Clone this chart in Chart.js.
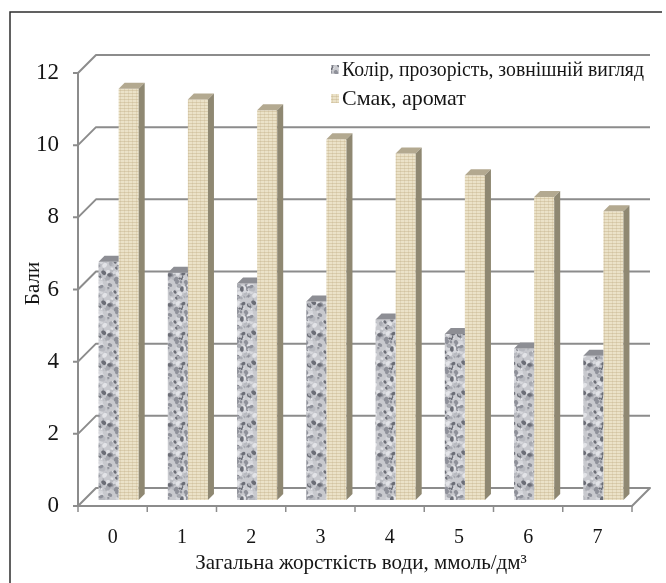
<!DOCTYPE html>
<html>
<head>
<meta charset="utf-8">
<script src="https://cdn.jsdelivr.net/npm/chart.js@4.4.1/dist/chart.umd.min.js"></script>
<style>
  html, body { margin: 0; padding: 0; background: #fff; }
  #wrap { width: 666px; height: 583px; position: relative; }
  canvas { display: block; }
</style>
</head>
<body>
<div id="wrap"><canvas id="c" width="666" height="583"></canvas></div>
<script>
// Water hardness categories (mmol/dm3) and sensory scores
const hardness = ['0', '1', '2', '3', '4', '5', '6', '7'];
const appearanceScores = [6.6, 6.3, 6.0, 5.5, 5.0, 4.6, 4.2, 4.0];
const tasteScores = [11.4, 11.1, 10.8, 10.0, 9.6, 9.0, 8.4, 8.0];
const seriesNames = ['Колір, прозорість, зовнішній вигляд', 'Смак, аромат'];
const xTitle = 'Загальна жорсткість води, ммоль/дм³';
const yTitle = 'Бали';
const yMax = 12;
const yStep = 2;

// pseudo-3D geometry (pixels)
const DEPTH = 18;      // floor depth, front edge to back wall
const FRONT = 6;       // bar plane sits this far behind the front edge
const BAR_D = 6;       // bar thickness in depth
const SERIF = "'Liberation Serif', 'DejaVu Serif', serif";
const INK = '#151515';

// deterministic hash for texture speckle placement
function hash(a, b) {
  let h = (a * 374761393 + b * 668265263) | 0;
  h = Math.imul(h ^ (h >>> 13), 1274126177);
  h = h ^ (h >>> 16);
  return (h >>> 0) / 4294967295;
}

function granitePattern() {
  const n = 30;
  const c = document.createElement('canvas');
  c.width = n; c.height = n;
  const g = c.getContext('2d');
  g.fillStyle = '#c8c9ce';
  g.fillRect(0, 0, n, n);
  const tones = ['#6b6d76', '#8f919a', '#a9abb2', '#e2e3e7', '#d6d7dc', '#b8bac0'];
  for (let i = 0; i < 90; i++) {
    const x = hash(i, 11) * n, y = hash(i, 23) * n;
    const r = 0.8 + hash(i, 37) * 2.0;
    g.fillStyle = tones[Math.floor(hash(i, 41) * tones.length)];
    for (const dx of [-n, 0, n]) for (const dy of [-n, 0, n]) {
      g.beginPath();
      g.ellipse(x + dx, y + dy, r, r * 0.75, hash(i, 53) * 3, 0, Math.PI * 2);
      g.fill();
    }
  }
  return g.createPattern(c, 'repeat');
}

function linenPattern() {
  const c = document.createElement('canvas');
  c.width = 12; c.height = 12;
  const g = c.getContext('2d');
  g.fillStyle = '#ebe2c8';
  g.fillRect(0, 0, 12, 12);
  g.fillStyle = 'rgba(185,166,122,0.35)';
  for (let y = 0; y < 12; y += 3) g.fillRect(0, y, 12, 1);
  g.fillStyle = 'rgba(185,166,122,0.22)';
  for (let x = 0; x < 12; x += 4) g.fillRect(x, 0, 1, 12);
  return g.createPattern(c, 'repeat');
}

const faceColors = [
  { top: '#8d8e94', side: '#77787e' },
  { top: '#b3a990', side: '#8f8872' }
];

const scene3d = {
  id: 'scene3d',
  beforeDraw(chart) {
    const { ctx, width, height } = chart;
    ctx.save();
    ctx.fillStyle = '#ffffff';
    ctx.fillRect(0, 0, width, height);
    ctx.strokeStyle = '#2e2e2e';
    ctx.lineWidth = 1.5;
    ctx.beginPath();
    ctx.moveTo(10, height);
    ctx.lineTo(10, 12);
    ctx.lineTo(662, 12);
    ctx.stroke();
    ctx.restore();
  },
  beforeDatasetsDraw(chart) {
    const { ctx, chartArea: a, scales: { x, y } } = chart;
    const back = DEPTH - FRONT;
    const y0 = y.getPixelForValue(0);
    const fx = a.left - FRONT;
    ctx.save();
    ctx.strokeStyle = '#8c8c8c';
    ctx.lineWidth = 2;
    ctx.lineJoin = 'round';
    // back wall grid lines with their diagonals on the side wall
    y.ticks.forEach(t => {
      if (t.value === 0) return;
      const yy = y.getPixelForValue(t.value);
      ctx.beginPath();
      ctx.moveTo(fx - 5, yy + FRONT);
      ctx.lineTo(fx, yy + FRONT);
      ctx.lineTo(a.left + back, yy - back);
      ctx.lineTo(a.right + back, yy - back);
      ctx.stroke();
    });
    // front vertical axis
    ctx.beginPath();
    ctx.moveTo(fx, y.getPixelForValue(yMax) + FRONT);
    ctx.lineTo(fx, y0 + FRONT);
    ctx.moveTo(fx - 5, y0 + FRONT);
    ctx.lineTo(fx, y0 + FRONT);
    ctx.stroke();
    // floor
    ctx.beginPath();
    ctx.moveTo(fx, y0 + FRONT);
    ctx.lineTo(a.right - FRONT, y0 + FRONT);
    ctx.lineTo(a.right + back, y0 - back);
    ctx.lineTo(a.left + back, y0 - back);
    ctx.closePath();
    ctx.stroke();
    // category boundary ticks below the front edge
    const band = x.getPixelForValue(1) - x.getPixelForValue(0);
    ctx.lineWidth = 1.5;
    ctx.beginPath();
    for (let k = 0; k <= hardness.length; k++) {
      const xx = fx + k * band;
      ctx.moveTo(xx, y0 + FRONT);
      ctx.lineTo(xx, y0 + FRONT + 6);
    }
    ctx.stroke();
    ctx.restore();
  },
  afterDatasetsDraw(chart) {
    const { ctx } = chart;
    const metas = [chart.getDatasetMeta(0), chart.getDatasetMeta(1)];
    ctx.save();
    for (let i = 0; i < hardness.length; i++) {
      metas.forEach((meta, di) => {
        const p = meta.data[i].getProps(['x', 'y', 'base', 'width'], true);
        const l = p.x - p.width / 2, r = p.x + p.width / 2, t = p.y;
        // top face
        ctx.fillStyle = faceColors[di].top;
        ctx.beginPath();
        ctx.moveTo(l, t);
        ctx.lineTo(r, t);
        if (di === 0) {
          // right part of the top is hidden behind the neighbouring bar
          ctx.lineTo(r, t - BAR_D);
        } else {
          ctx.lineTo(r + BAR_D, t - BAR_D);
        }
        ctx.lineTo(l + BAR_D, t - BAR_D);
        ctx.closePath();
        ctx.fill();
        if (di === 1) {
          // right side face
          ctx.fillStyle = faceColors[di].side;
          ctx.beginPath();
          ctx.moveTo(r, t);
          ctx.lineTo(r + BAR_D, t - BAR_D);
          ctx.lineTo(r + BAR_D, p.base - BAR_D);
          ctx.lineTo(r, p.base);
          ctx.closePath();
          ctx.fill();
        }
      });
    }
    ctx.restore();
  },
  afterDraw(chart) {
    const { ctx } = chart;
    const rows = [70, 99];
    ctx.save();
    ctx.font = '22px ' + SERIF;
    ctx.textBaseline = 'middle';
    chart.data.datasets.forEach((ds, i) => {
      const cy = rows[i];
      ctx.fillStyle = ds.backgroundColor;
      ctx.fillRect(331, cy - 5, 8, 9);
      ctx.fillStyle = INK;
      const w = ctx.measureText(ds.label).width;
      const maxW = i === 0 ? 302 : 999;
      const sx = Math.min(1, maxW / w);
      ctx.save();
      ctx.translate(342, cy);
      ctx.scale(sx, 1);
      ctx.fillText(ds.label, 0, 0);
      ctx.restore();
    });
    ctx.restore();
  }
};

function build() {
  new Chart(document.getElementById('c'), {
    type: 'bar',
    data: {
      labels: hardness,
      datasets: [
        { label: seriesNames[0], data: appearanceScores, backgroundColor: granitePattern(), borderWidth: 0,
          categoryPercentage: 0.58, barPercentage: 1.0 },
        { label: seriesNames[1], data: tasteScores, backgroundColor: linenPattern(), borderWidth: 0,
          categoryPercentage: 0.58, barPercentage: 1.0 }
      ]
    },
    options: {
      responsive: false,
      animation: false,
      events: [],
      layout: { padding: { left: 10, top: 67, right: 28, bottom: 0 } },
      plugins: { legend: { display: false }, tooltip: { enabled: false } },
      scales: {
        x: {
          grid: { display: false, drawTicks: false },
          border: { display: false },
          ticks: { labelOffset: -6, padding: 26, maxRotation: 0, color: INK,
                   font: { family: SERIF, size: 20 } },
          title: { display: true, text: xTitle, color: INK,
                   font: { family: SERIF, size: 21 }, padding: { top: 0, bottom: 7 } },
          afterFit(s) { s.height = 83; }
        },
        y: {
          min: 0, max: yMax,
          grid: { display: false, drawTicks: false },
          border: { display: false },
          ticks: { stepSize: yStep, labelOffset: 6, padding: 25, color: INK,
                   font: { family: SERIF, size: 23 } },
          title: { display: true, text: yTitle, color: INK,
                   font: { family: SERIF, size: 21 }, padding: { top: 11, bottom: 0 } },
          afterFit(s) { s.width = 74; }
        }
      }
    },
    plugins: [scene3d]
  });
}

const fontsReady = document.fonts && document.fonts.load
  ? Promise.all([
      document.fonts.load('23px "Liberation Serif"', 'Бали 0123'),
      document.fonts.load('21px "Liberation Serif"', 'Загальна')
    ]).catch(() => null)
  : Promise.resolve();
fontsReady.then(build);
</script>
</body>
</html>
